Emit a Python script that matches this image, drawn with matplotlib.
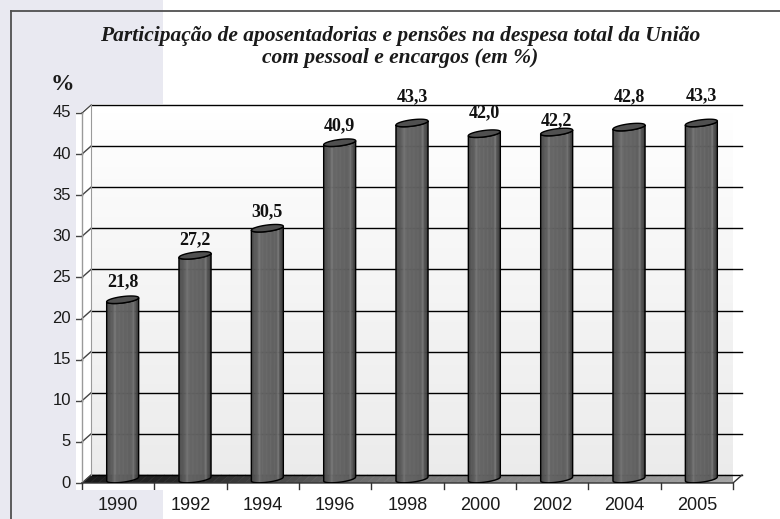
import numpy as np
import matplotlib.pyplot as plt
from matplotlib.colors import LinearSegmentedColormap
from matplotlib.collections import PolyCollection
from matplotlib.patches import Polygon
from matplotlib.lines import Line2D

years = ['1990', '1992', '1994', '1996', '1998', '2000', '2002', '2004', '2005']
values = [21.8, 27.2, 30.5, 40.9, 43.3, 42.0, 42.2, 42.8, 43.3]
value_labels = ['21,8', '27,2', '30,5', '40,9', '43,3', '42,0', '42,2', '42,8', '43,3']
y_ticks = [0, 5, 10, 15, 20, 25, 30, 35, 40, 45]

title = ('Participação de aposentadorias e pensões na despesa total da União\n'
         'com pessoal e encargos (em %)')

# label lift above bar top, in pixels (the source chart is a bit irregular)
label_lift = [22, 20, 20, 21, 30, 25, 15, 34, 31]

W, H = 780, 519
fig = plt.figure(figsize=(W / 100, H / 100), dpi=100)

# axes: front plane, x 0..9 categories, y 0..45
x0, x1, y0, y1 = 82, 733, 483, 113
ax = fig.add_axes([x0 / W, 1 - y0 / H, (x1 - x0) / W, (y0 - y1) / H], zorder=2)
ax.set_axis_off()
ax.set_facecolor('none')
ncat = len(years)
ymax = 45
px_x = (x1 - x0) / ncat
px_y = (y0 - y1) / ymax
dx = 9 / px_x          # depth offset of the back wall
dy = 8 / px_y


def fpx(x, y):
    return (x / W, 1 - y / H)


# lavender strip on the left, drawn around the plot area (above the axes)
lav = [fpx(0, 0), fpx(163, 0), fpx(163, 104), fpx(91, 104), fpx(82, 112),
       fpx(76, 112), fpx(76, 490), fpx(163, 490), fpx(163, H), fpx(0, H)]
fig.patches.append(Polygon(lav, closed=True, transform=fig.transFigure,
                           facecolor='#e9e9f1', edgecolor='none', zorder=2.5))
# open frame
fig.lines.append(Line2D([11 / W, 11 / W], [0, 1 - 11 / H], transform=fig.transFigure,
                        color='#505050', lw=1.3, zorder=2.7))
fig.lines.append(Line2D([11 / W, 1], [1 - 11 / H, 1 - 11 / H], transform=fig.transFigure,
                        color='#505050', lw=1.3, zorder=2.7))


def strips(cmap, n, make):
    polys, cols = [], []
    for j in range(n):
        polys.append(make(j / n, (j + 1) / n))
        cols.append(cmap((j + 0.5) / n))
    return PolyCollection(polys, facecolors=cols, edgecolors=cols, linewidths=0.4)


# back wall with a soft vertical gradient
wall_cmap = LinearSegmentedColormap.from_list('wall', ['#ebebeb', '#f4f4f4', '#ffffff'])
wall = strips(wall_cmap, 60, lambda a, b: [(dx, dy + a * ymax), (ncat + dx, dy + a * ymax),
                                           (ncat + dx, dy + b * ymax), (dx, dy + b * ymax)])
wall.set_zorder(1)
ax.add_collection(wall)

# floor, dark on the left and lighter to the right
floor_cmap = LinearSegmentedColormap.from_list(
    'floor', [(0, '#1a1a1a'), (0.18, '#2a2a2a'), (0.45, '#727272'), (1, '#a4a4a4')])
floor = strips(floor_cmap, 80, lambda a, b: [(a * ncat, 0), (b * ncat, 0),
                                             (b * ncat + dx, dy), (a * ncat + dx, dy)])
floor.set_zorder(2)
ax.add_collection(floor)

# gridlines on the back wall + diagonals on the side
for t in y_ticks:
    ax.plot([dx, ncat + dx], [t + dy, t + dy], color='black', lw=1.0, zorder=3,
            clip_on=False)
    ax.plot([0, dx], [t, t + dy], color='#444444', lw=1.0, zorder=3, clip_on=False)
    ax.plot([-6 / px_x, 0], [t, t], color='#444444', lw=1.0, zorder=3, clip_on=False)
    fig.text(-11 / px_x, t, str(t), transform=ax.transData, ha='right', va='center',
             fontsize=12, family='Liberation Sans', color='#1a1a1a', zorder=3)
ax.plot([0, 0], [0, ymax], color='#9a9a9a', lw=1.0, zorder=3, clip_on=False)
ax.plot([dx, dx], [dy, ymax + dy], color='#9a9a9a', lw=0.8, zorder=3, clip_on=False)

# front floor edge and category ticks
ax.plot([0, ncat, ncat + dx], [0, 0, dy], color='#333333', lw=1.0, zorder=4,
        clip_on=False)
for k in range(ncat + 1):
    ax.plot([k, k], [0, -6 / px_y], color='#333333', lw=1.0, zorder=4, clip_on=False)
for k, yr in enumerate(years):
    fig.text(k + 0.5, -22 / px_y, yr, transform=ax.transData, ha='center', va='center',
             fontsize=13, family='Liberation Sans', color='#1a1a1a', zorder=3)

# cylinders
cyl_cmap = LinearSegmentedColormap.from_list('cyl', [
    (0.0, '#3a3a3a'), (0.06, '#505050'), (0.2, '#5e5e5e'), (0.27, '#767676'),
    (0.31, '#656565'), (0.6, '#626262'), (0.8, '#5e5e5e'), (0.85, '#787878'),
    (0.89, '#585858'), (1.0, '#383838')])
hw = 16 / px_x       # half width
eb = 3.2 / px_y      # ellipse half height
es = 2.0 / px_y      # tilt of ellipse (right side higher)
tt = np.linspace(0, 2 * np.pi, 120)


def lower_arc(cx, yc, x):
    c = np.clip((x - cx) / hw, -1, 1)
    return yc - eb * np.sqrt(1 - c ** 2) + es * c


for i, v in enumerate(values):
    cx = i + 0.5 + dx / 2
    yb = dy / 2
    yt = v + dy / 2

    def piece(a, b, cx=cx, yb=yb, yt=yt):
        xa, xb = cx - hw + 2 * hw * a, cx - hw + 2 * hw * b
        return [(xa, lower_arc(cx, yb, xa)), (xb, lower_arc(cx, yb, xb)),
                (xb, lower_arc(cx, yt, xb)), (xa, lower_arc(cx, yt, xa))]

    body = strips(cyl_cmap, 40, piece)
    body.set_zorder(5)
    ax.add_collection(body)

    xs = np.linspace(cx - hw, cx + hw, 80)
    outline = np.vstack([np.column_stack([xs, lower_arc(cx, yb, xs)]),
                         np.column_stack([xs[::-1], lower_arc(cx, yt, xs[::-1])])])
    ax.add_patch(Polygon(outline, closed=True, facecolor='none', edgecolor='black',
                         lw=1.0, zorder=6))
    top = Polygon(np.column_stack([cx + hw * np.cos(tt),
                                   yt + eb * np.sin(tt) + es * np.cos(tt)]),
                  closed=True, facecolor='#505050', edgecolor='black', lw=1.0, zorder=7)
    ax.add_patch(top)
    ax.annotate(value_labels[i], (cx, v), xytext=(0, label_lift[i] * 0.72),
                textcoords='offset points', ha='center', va='center',
                fontsize=13, fontweight='bold', family='Liberation Serif',
                color='#111111', zorder=8, annotation_clip=False)

ax.set_xlim(0, ncat)
ax.set_ylim(0, ymax)

fig.text(400 / W, 1 - 47 / H, title, ha='center', va='center', fontsize=15.5,
         fontweight='bold', fontstyle='italic', family='Liberation Serif',
         color='#1a1a1a', linespacing=1.1, zorder=3)
fig.text(62 / W, 1 - 85 / H, '%', ha='center', va='center', fontsize=17,
         fontweight='bold', family='Liberation Serif', color='#1a1a1a', zorder=3)

fig.savefig('out.png', dpi=100)
